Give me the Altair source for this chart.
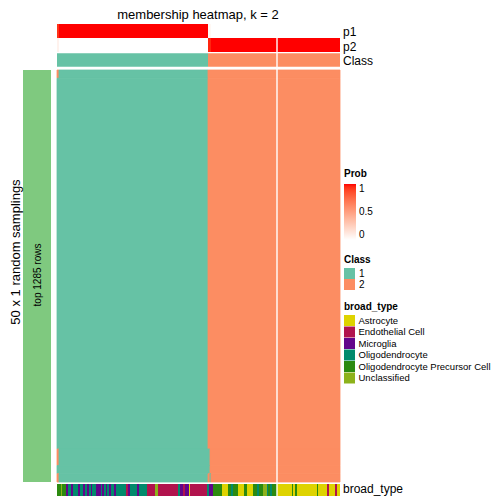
import altair as alt
import pandas as pd

# ---------------- data ----------------
N_COLS = 283  # samples (columns)

# membership probability p1 per column, as runs (count, value); p2 = 1 - p1
p1_counts = [2, 149, 3, 129]
p1_values = [0.93, 1.0, 0.04, 0.0]

# consensus class per column, as runs
class_counts = [151, 132]
class_values = ["1", "2"]

# main heatmap: 50 random samplings (rows); row blocks, each with column runs of class
block_row_start = [0, 1, 46, 48, 49]
block_row_end = [1, 46, 48, 49, 50]
block_counts = [[2, 149, 132], [151, 132], [2, 151, 130], [153, 130], [2, 149, 2, 1, 129]]
block_classes = [["2", "1", "2"], ["1", "2"], ["2", "1", "2"], ["1", "2"], ["2", "1", "2", "1", "2"]]

# broad_type annotation per column, as runs (code, end column)
bt_names = {
    "A": "Astrocyte",
    "E": "Endothelial Cell",
    "M": "Microglia",
    "O": "Oligodendrocyte",
    "P": "Oligodendrocyte Precursor Cell",
    "U": "Unclassified",
}
bt_codes = ["P", "U", "P", "M", "O", "M", "O", "M", "O", "M", "O", "M", "O", "M", "O", "M",
            "O", "M", "O", "M", "O", "M", "O", "M", "O", "E", "M", "O", "M", "O", "E", "U",
            "E", "O", "M", "E", "M", "A", "E", "O", "M", "P", "A", "P", "O", "P", "A", "P",
            "A", "P", "O", "P", "U", "O", "P", "O", "P", "A", "P", "A", "P", "A", "P", "A",
            "E", "A", "E", "A"]
bt_ends = [4, 5, 9, 11, 14, 16, 21, 23, 26, 28, 30, 32, 34, 35, 39, 44,
           45, 47, 49, 50, 52, 54, 57, 59, 69, 71, 73, 80, 82, 90, 98, 101,
           121, 123, 126, 128, 132, 133, 150, 152, 156, 165, 171, 174, 176, 181, 187, 190,
           196, 200, 202, 206, 210, 211, 213, 215, 220, 235, 236, 238, 240, 260, 261, 270,
           272, 278, 280, 283]

gap_after_col = [220]
row_group = ["top 1285 rows"]
n_rows = 50

# ---------------- styles ----------------
broad_types = ["Astrocyte", "Endothelial Cell", "Microglia", "Oligodendrocyte",
               "Oligodendrocyte Precursor Cell", "Unclassified"]
broad_colors = ["#DED300", "#B1134D", "#62058B", "#018A6C", "#2C8A10", "#8DB21B"]
class_colors = ["#66C2A5", "#FC8D62"]
FONT = "Liberation Sans"

# ---------------- tables ----------------
def runs(counts, values):
    out, s = [], 0
    for c, v in zip(counts, values):
        out.append((s, s + c, v))
        s += c
    return out

p_rows = []
for s, e, v in runs(p1_counts, p1_values):
    p_rows.append({"track": "p1", "start": s, "end": e, "prob": v})
    p_rows.append({"track": "p2", "start": s, "end": e, "prob": round(1 - v, 3)})
p_df = pd.DataFrame(p_rows)

class_df = pd.DataFrame([{"track": "Class", "start": s, "end": e, "cls": v}
                         for s, e, v in runs(class_counts, class_values)])

main_rows = []
for r0, r1, cnts, cls in zip(block_row_start, block_row_end, block_counts, block_classes):
    for s, e, v in runs(cnts, cls):
        main_rows.append({"r0": r0, "r1": r1, "start": s, "end": e, "cls": v})
main_df = pd.DataFrame(main_rows)

bt_rows, s = [], 0
for c, e in zip(bt_codes, bt_ends):
    bt_rows.append({"track": "broad_type", "start": s, "end": e, "broad_type": bt_names[c]})
    s = e
bt_df = pd.DataFrame(bt_rows)

group_df = pd.DataFrame({"label": row_group, "r0": [0], "r1": [n_rows]})
gap_df = pd.DataFrame({"pos": gap_after_col})

# ---------------- scales ----------------
xs = alt.Scale(domain=[0, N_COLS], range=[49, 49 + N_COLS], nice=False, zero=False)
main_ys = alt.Scale(domain=[0, n_rows], range=[62, 474], nice=False, zero=False)
class_scale = alt.Scale(domain=class_values, range=class_colors)

green_bar = alt.Chart(group_df).mark_rect(color="#7FC97F").encode(
    x=alt.value(15), x2=alt.value(43),
    y=alt.Y("r0:Q", scale=main_ys, axis=None), y2="r1:Q")

p_layer = alt.Chart(p_df).mark_rect().encode(
    x=alt.X("start:Q", scale=xs, axis=None), x2="end:Q",
    y=alt.Y("track:N", scale=alt.Scale(domain=["p1", "p2"], range=[16, 44],
                                       paddingInner=0, paddingOuter=0), axis=None),
    color=alt.Color("prob:Q",
                    scale=alt.Scale(domain=[0, 1], range=["#FFFFFF", "#FF0000"], interpolate="lab"),
                    legend=alt.Legend(title="Prob", orient="none", legendX=336, legendY=161,
                                      direction="vertical", gradientLength=56, gradientThickness=12,
                                      values=[0, 0.5, 1], format="~g", titleFontSize=10,
                                      labelFontSize=10, titleFontWeight="bold",
                                      gradientStrokeWidth=0, labelOffset=3, titlePadding=5,
                                      labelBaseline="middle")))

class_layer = alt.Chart(class_df).mark_rect().encode(
    x=alt.X("start:Q", scale=xs, axis=None), x2="end:Q",
    y=alt.Y("track:N", scale=alt.Scale(domain=["Class"], range=[45.3, 58.7],
                                       paddingInner=0, paddingOuter=0), axis=None),
    color=alt.Color("cls:N", scale=class_scale,
                    legend=alt.Legend(title="Class", orient="none", legendX=336, legendY=247,
                                      symbolType="square", symbolSize=121, symbolStrokeWidth=0,
                                      rowPadding=0, titleFontSize=10, labelFontSize=10,
                                      titleFontWeight="bold", labelOffset=4, titlePadding=3)))

main_layer = alt.Chart(main_df).mark_rect(strokeWidth=0.8).encode(
    x=alt.X("start:Q", scale=xs, axis=None), x2="end:Q",
    y=alt.Y("r0:Q", scale=main_ys, axis=None), y2="r1:Q",
    color=alt.Color("cls:N", scale=class_scale, legend=None),
    stroke=alt.Stroke("cls:N", scale=class_scale, legend=None))

bt_layer = alt.Chart(bt_df).mark_rect().encode(
    x=alt.X("start:Q", scale=xs, axis=None), x2="end:Q",
    y=alt.Y("track:N", scale=alt.Scale(domain=["broad_type"], range=[476, 491],
                                       paddingInner=0, paddingOuter=0), axis=None),
    color=alt.Color("broad_type:N", scale=alt.Scale(domain=broad_types, range=broad_colors),
                    legend=alt.Legend(title="broad_type", orient="none", legendX=336, legendY=294,
                                      symbolType="square", symbolSize=121, symbolStrokeWidth=0,
                                      rowPadding=0.5, titleFontSize=10, labelFontSize=9.5,
                                      titleFontWeight="bold", labelOffset=3.5, titlePadding=3,
                                      labelLimit=300)))

gap_layer = alt.Chart(gap_df).mark_rule(color="white", strokeWidth=1.4).encode(
    x=alt.X("pos:Q", scale=xs, axis=None), y=alt.value(16), y2=alt.value(491))


def label(txt, x, y, size, angle=0, align="left"):
    return alt.Chart(alt.InlineData(values=[{"t": txt}])).mark_text(
        fontSize=size, angle=angle, align=align, baseline="middle", color="black", font=FONT
    ).encode(x=alt.value(x), y=alt.value(y), text="t:N")


texts = [
    label("membership heatmap, k = 2", 190, 7, 13, align="center"),
    label("p1", 335, 24, 12),
    label("p2", 335, 38.5, 12),
    label("Class", 335, 53, 12),
    label("broad_type", 335, 481, 12),
    label("50 x 1 random samplings", 7.5, 244, 13, angle=270, align="center"),
    label(row_group[0], 30, 267, 10, angle=270, align="center"),
]

chart = alt.layer(green_bar, p_layer, class_layer, main_layer, bt_layer, gap_layer, *texts).resolve_scale(
    y="independent", color="independent", stroke="independent"
).properties(
    width=488, height=488, padding=0, autosize=alt.AutoSizeParams(type="none")
).configure(font=FONT).configure_view(strokeWidth=0).configure_legend(padding=0)

chart.save("out.html", embed_options={"renderer": "svg", "actions": False})
